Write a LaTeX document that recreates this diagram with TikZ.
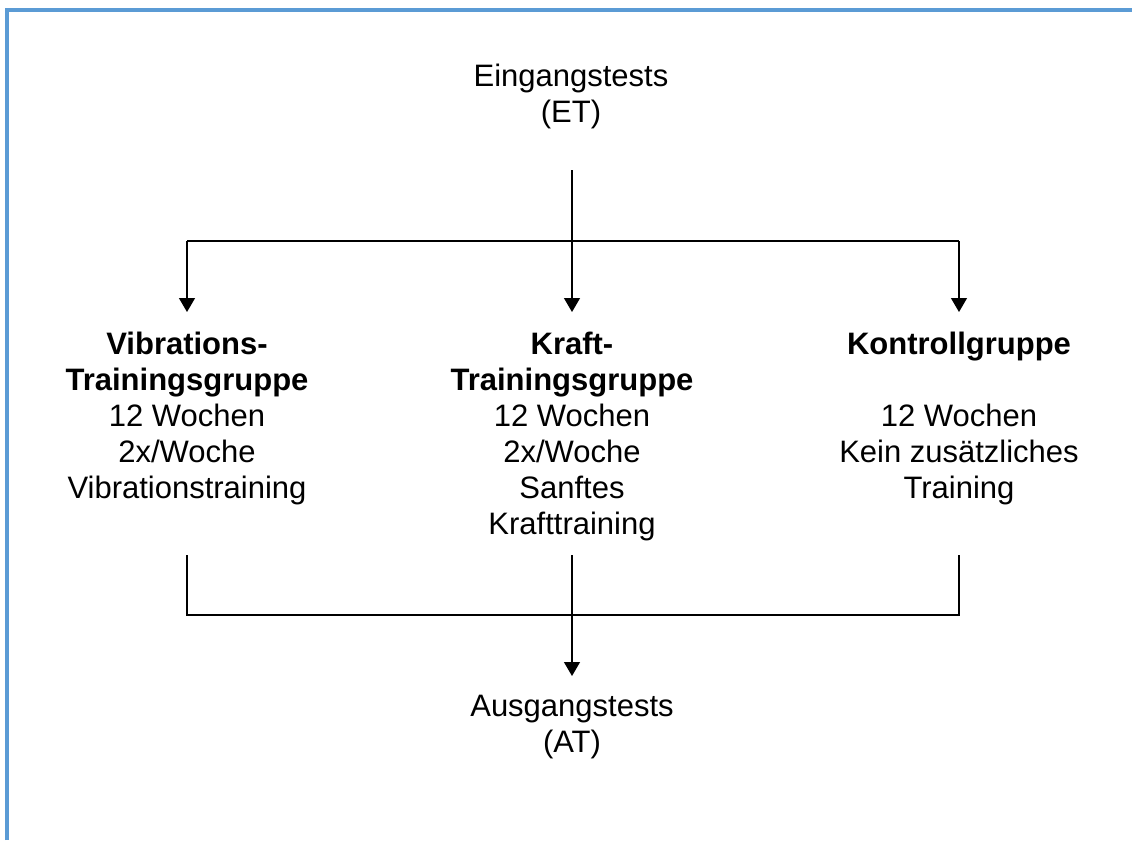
\documentclass[tikz,border=0pt]{standalone}
\usepackage{fontspec}
\setmainfont{Liberation Sans}
\usetikzlibrary{arrows.meta}
\definecolor{framblue}{RGB}{91,155,213}
\begin{document}
\begin{tikzpicture}[x=0.75pt,y=-0.75pt,
  txt/.style={align=center,inner sep=0pt,anchor=base,
    font=\fontsize{23.25pt}{27pt}\selectfont},
  conn/.style={line width=1pt,black},
  arr/.style={conn,-{Triangle[width=12pt,length=10.5pt]}},
  frameline/.style={line width=2.4pt,framblue}]
\useasboundingbox (0,0) rectangle (1132,840);
\draw[frameline] (7,840) -- (7,10) -- (1132,10);

% base anchor = baseline of the last line
\node[txt] (et) at (571,122) {Eingangstests\\(ET)};
\node[txt] (vib) at (187,498) {\textbf{Vibrations-}\\\textbf{Trainingsgruppe}\\12 Wochen\\2x/Woche\\Vibrationstraining};
\node[txt] (kraft) at (572,534) {\textbf{Kraft-}\\\textbf{Trainingsgruppe}\\12 Wochen\\2x/Woche\\Sanftes\\Krafttraining};
\node[txt] (kontr) at (959,498) {\textbf{Kontrollgruppe}\\\mbox{}\\12 Wochen\\Kein zusätzliches\\Training};
\node[txt] (at) at (572,752) {Ausgangstests\\(AT)};

\coordinate (etout) at (572,170);
\coordinate (hub) at (572,241);
\coordinate (hubL) at (187,241);
\coordinate (hubR) at (959,241);
\coordinate (vibin) at (187,312);
\coordinate (kraftin) at (572,312);
\coordinate (kontrin) at (959,312);
\coordinate (vibout) at (187,555);
\coordinate (kraftout) at (572,555);
\coordinate (kontrout) at (959,555);
\coordinate (joinL) at (187,615);
\coordinate (joinR) at (959,615);
\coordinate (atin) at (572,676);

\draw[conn] (etout) -- (hub);
\draw[conn] (hubL) -- (hubR);
\draw[arr] (hubL) -- (vibin);
\draw[arr] (hub) -- (kraftin);
\draw[arr] (hubR) -- (kontrin);
\draw[conn] (vibout) -- (joinL) -- (joinR) -- (kontrout);
\draw[arr] (kraftout) -- (atin);
\end{tikzpicture}
\end{document}
